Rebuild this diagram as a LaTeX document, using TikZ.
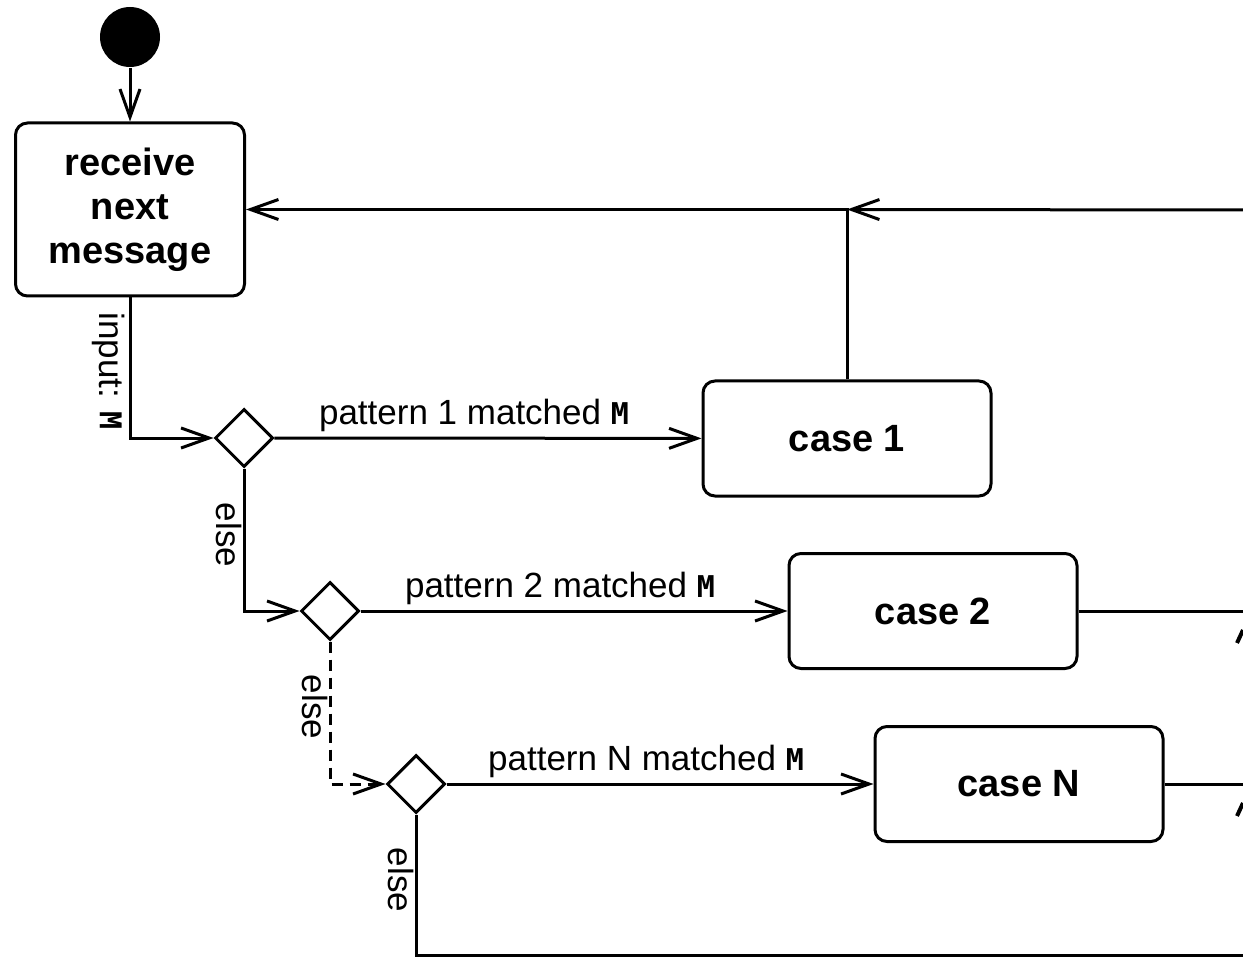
\documentclass[tikz,border=0pt]{standalone}
\usepackage{fontspec}
\setmainfont{Liberation Sans}
\newfontfamily\monobf{DejaVu Sans Mono}
\usetikzlibrary{arrows.meta,shapes.geometric}
\newcommand\mvar{{\monobf\fontsize{15}{15}\selectfont\bfseries M}}
\begin{document}
\begin{tikzpicture}[x=0.5pt,y=-0.5pt,
  line width=1.5pt,
  every node/.style={inner sep=0pt},
  act/.style={draw, rounded corners=6pt, minimum width=144pt, minimum height=57.5pt,
    font=\fontsize{19}{22}\selectfont\bfseries, align=center},
  dec/.style={draw, diamond, aspect=1, minimum width=29pt, minimum height=29pt, inner sep=0pt},
  flow/.style={-{Straight Barb[length=14pt,width=10pt]}},
  lbl/.style={font=\fontsize{17.5}{20}\selectfont},
  vlbl/.style={lbl, rotate=-90},
  elsedash/.style={dash pattern=on 5.5pt off 3.5pt},
]
\useasboundingbox (0,0) rectangle (1243,957);

% nodes
\node[circle, fill=black, minimum size=30pt] (start) at (130,37) {};
\node[act, minimum width=114.5pt, minimum height=86.5pt] (recv) at (130,209.5) {receive\\next\\message};
\node[dec] (d1) at (244,438) {};
\node[dec] (d2) at (330,611) {};
\node[dec] (d3) at (416,784) {};
\node[act] (case1) at (847,438.5) {case 1};
\node[act] (case2) at (933,611) {case 2};
\node[act] (caseN) at (1019,784) {case N};

% free ends
\coordinate (j1) at (case1.north |- recv.east);
\coordinate (r1) at (1250,210);
\coordinate (r2) at (1250,611);
\coordinate (r3) at (1250,784);
\coordinate (r4) at (1250,955);

% connectors
\draw[flow] (start) -- (recv);
\draw[flow] (recv.south) |- (d1.west);
\draw[flow] (d1) -- (case1);
\draw[flow] (case1.north) |- (recv.east);
\draw[flow] (r1) -- (j1);
\draw[flow] (d1.south) |- (d2.west);
\draw[flow] (d2) -- (case2);
\draw (case2.east) -- (r2);
\draw[flow, elsedash] (d2.south) |- (d3.west);
\draw[flow] (d3) -- (caseN);
\draw (caseN.east) -- (r3);
\draw (d3.south) |- (r4);

% labels
\node[vlbl] (linput) at (109,371) {input: \mvar};
\node[lbl, anchor=base] (lp1) at (474,424) {pattern 1 matched \mvar};
\node[lbl, anchor=base] (lp2) at (560,597) {pattern 2 matched \mvar};
\node[lbl, anchor=base] (lpN) at (646,770) {pattern N matched \mvar};
\node[vlbl] (le1) at (229,535) {else};
\node[vlbl] (le2) at (315,707) {else};
\node[vlbl] (le3) at (401,880) {else};

% cut-off strokes at the right edge
\draw[line width=2pt] (1237,643) -- (1243,630);
\draw[line width=2pt] (1237,816) -- (1243,803);
\end{tikzpicture}
\end{document}
